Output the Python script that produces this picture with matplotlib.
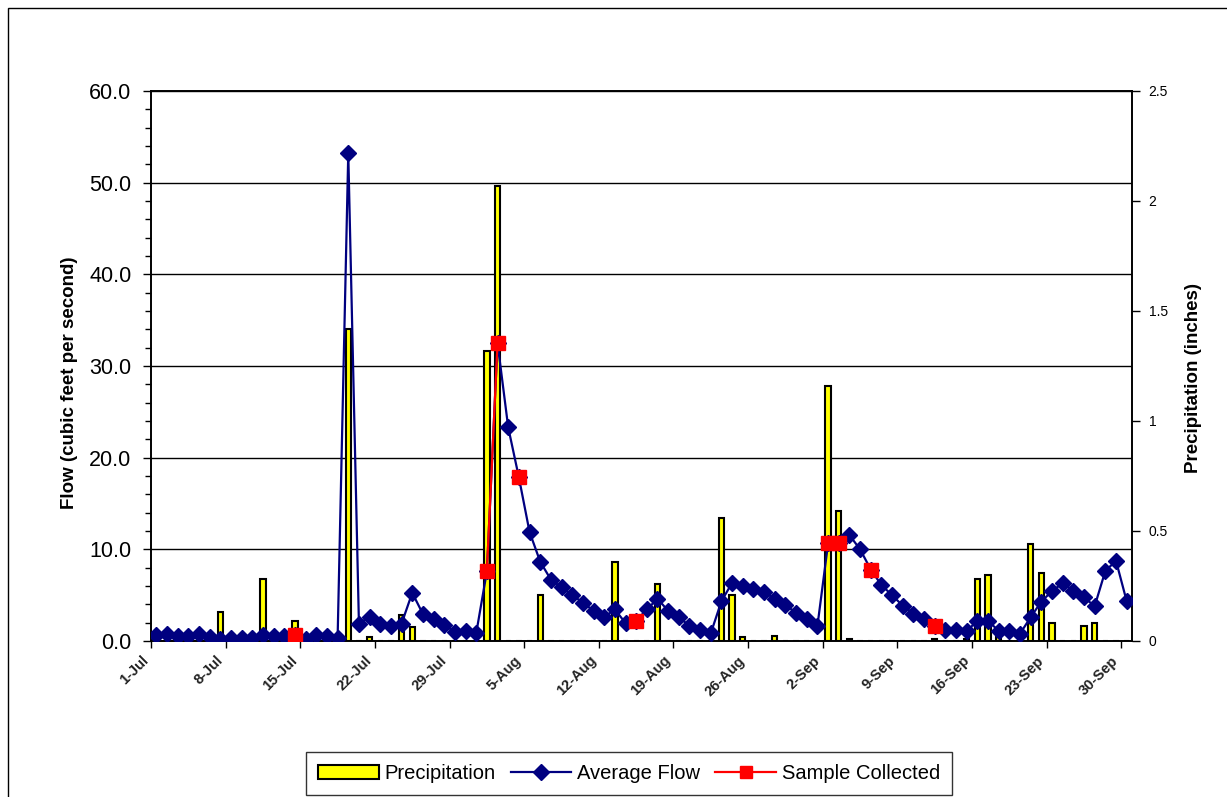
import numpy as np
import matplotlib
matplotlib.use('Agg')
import matplotlib.pyplot as plt
from matplotlib.patches import Rectangle, Patch
from matplotlib.lines import Line2D

plt.rcParams['font.family'] = ['Liberation Sans', 'DejaVu Sans']

# etiquetas del eje x (una cada 7 dias, desde 1-Jul)
etiquetas_fecha = ['1-Jul', '8-Jul', '15-Jul', '22-Jul', '29-Jul', '5-Aug', '12-Aug',
                   '19-Aug', '26-Aug', '2-Sep', '9-Sep', '16-Sep', '23-Sep', '30-Sep']

# caudal medio diario (cfs), 1-Jul .. 30-Sep
caudal = [0.7, 0.8, 0.6, 0.6, 0.75, 0.4, 0.2, 0.3, 0.3, 0.3,
          0.7, 0.5, 0.5, 0.65, 0.2, 0.7, 0.6, 0.3, 53.2, 1.9,
          2.65, 1.9, 1.65, 1.9, 5.25, 2.95, 2.45, 1.75, 1.0, 1.1,
          0.85, 7.6, 32.5, 23.3, 17.85, 11.9, 8.65, 6.7, 5.85, 5.0,
          4.2, 3.3, 2.6, 3.45, 1.95, 2.2, 3.45, 4.6, 3.3, 2.6,
          1.65, 1.25, 0.85, 4.35, 6.35, 6.05, 5.65, 5.4, 4.55, 3.9,
          3.1, 2.4, 1.65, 10.65, 10.65, 11.55, 10.0, 7.8, 6.1, 5.0,
          3.85, 3.0, 2.35, 1.65, 1.25, 1.25, 1.1, 2.2, 2.2, 1.1,
          1.05, 0.8, 2.6, 4.3, 5.45, 6.3, 5.5, 4.75, 3.8, 7.65,
          8.75, 4.35]

# precipitacion diaria (pulgadas)
precip = [0, 0, 0, 0, 0, 0, 0.13, 0, 0, 0,
          0.28, 0, 0.04, 0.09, 0, 0.04, 0, 0, 1.42, 0,
          0.02, 0, 0, 0.12, 0.065, 0, 0, 0, 0, 0,
          0, 1.32, 2.07, 0, 0, 0, 0.21, 0, 0, 0,
          0, 0, 0, 0.36, 0, 0, 0, 0.26, 0, 0,
          0, 0, 0, 0.56, 0.21, 0.02, 0, 0, 0.025, 0,
          0, 0, 0, 1.16, 0.59, 0.01, 0, 0, 0, 0,
          0, 0, 0, 0.01, 0, 0, 0.01, 0.28, 0.30, 0.02,
          0, 0, 0.44, 0.31, 0.08, 0, 0, 0.07, 0.08, 0,
          0, 0]

# dias con muestra tomada (None = sin muestra)
muestras = [None] * 92
for d in [13, 31, 32, 34, 45, 63, 64, 67, 73]:
    muestras[d] = caudal[d]
muestras = np.array(muestras, dtype=float)

dias = np.arange(len(caudal)) + 0.5

fig = plt.figure(figsize=(12.27, 7.97), dpi=100)
ax = fig.add_axes([151/1227, 1 - 641/797, 981/1227, 550/797])
ax2 = ax.twinx()
ax3 = ax.twinx()

# eje izquierdo (caudal) con grilla
ax.set_ylim(0, 60)
ax.set_xlim(0, 92)
ax.set_yticks(np.arange(0, 61, 10))
ax.set_yticklabels([f'{v:.1f}' for v in np.arange(0, 61, 10)], fontsize=15.5)
ax.set_yticks(np.arange(0, 61, 2), minor=True)
ax.grid(True, axis='y', color='black', linewidth=1)
ax.set_axisbelow(True)
ax.tick_params(axis='y', which='major', direction='out', length=6, width=1, pad=8)
ax.tick_params(axis='y', which='minor', direction='out', length=4, width=1)
ax.set_xticks(np.arange(0, 92, 7))
ax.set_xticklabels(etiquetas_fecha, rotation=45, ha='right', fontsize=10.5, fontweight='bold',
                   color='#222222')
ax.tick_params(axis='x', direction='out', length=5, width=1, pad=4)
ax.set_ylabel('Flow (cubic feet per second)', fontsize=13.5, fontweight='bold')
ax.yaxis.set_label_coords(-0.074, 0.47)
for s in ax.spines.values():
    s.set_linewidth(1.2)

# barras de precipitacion (eje derecho)
ax2.bar(dias, precip, width=0.5, color='#FFFF00', edgecolor='black', linewidth=1.5)
ax2.set_ylim(0, 2.5)
ax2.set_yticks([0, 0.5, 1, 1.5, 2, 2.5])
ax2.set_yticklabels(['0', '0.5', '1', '1.5', '2', '2.5'], fontsize=10)
ax2.tick_params(axis='y', direction='out', length=6, width=1, pad=6)
ax2.set_ylabel('Precipitation (inches)', fontsize=13.5, fontweight='bold')
ax2.yaxis.set_label_coords(1.054, 0.478)
for s in ax2.spines.values():
    s.set_linewidth(1.2)

# lineas de caudal y muestras (encima de las barras)
ax3.set_ylim(0, 60)
ax3.plot(dias, caudal, color='#000080', linewidth=1.6, marker='D', markersize=8,
         markerfacecolor='#000080', markeredgecolor='#000080')
ax3.plot(dias, muestras, color='#FF0000', linewidth=1.6, marker='s', markersize=10,
         markerfacecolor='#FF0000', markeredgecolor='#FF0000')
ax3.axis('off')

# leyenda
manijas = [Patch(facecolor='#FFFF00', edgecolor='black', linewidth=1.5),
           Line2D([], [], color='#000080', linewidth=1.6, marker='D', markersize=8),
           Line2D([], [], color='#FF0000', linewidth=1.6, marker='s', markersize=9)]
leg = fig.legend(manijas, ['Precipitation', 'Average Flow', 'Sample Collected'],
                 loc='upper left', bbox_to_anchor=(306/1227, 1 - 752/797), ncol=3,
                 fontsize=14.5, frameon=True, fancybox=False, edgecolor='black',
                 handlelength=3.0, handletextpad=0.3, columnspacing=0.75,
                 borderaxespad=0, borderpad=0.6)
leg.get_frame().set_linewidth(1)

# marco exterior del grafico
fig.patches.append(Rectangle((8/1227, -0.1), 1.2, 1 - 8/797 + 0.1, transform=fig.transFigure,
                             fill=False, edgecolor='black', linewidth=1))

plt.savefig('out.png', dpi=100)
